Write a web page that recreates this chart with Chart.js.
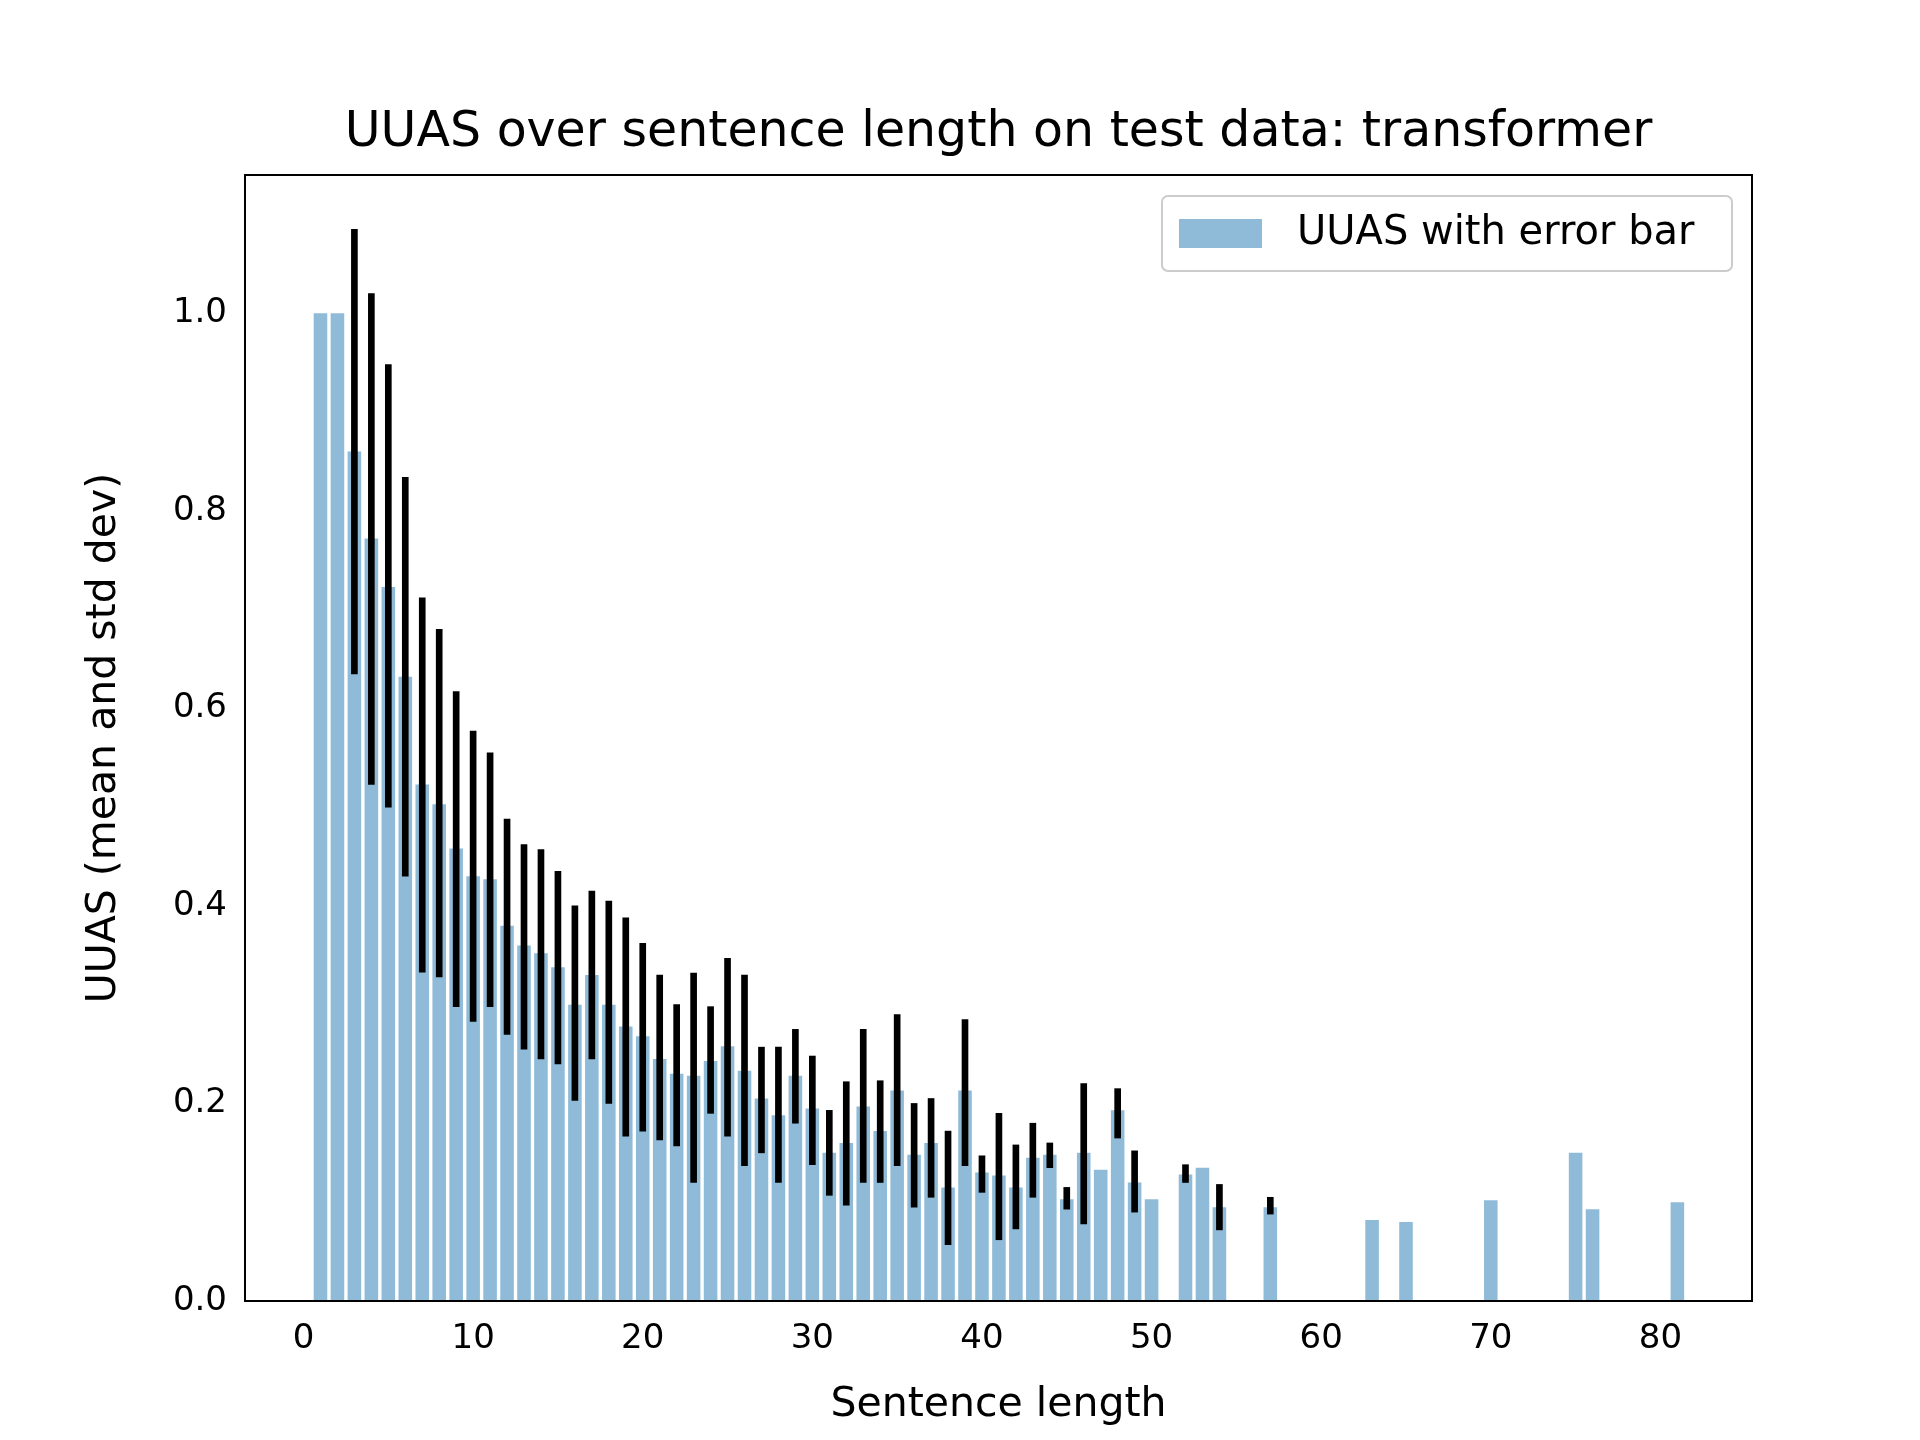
<!DOCTYPE html>
<html><head><meta charset="utf-8">
<script src="https://cdn.jsdelivr.net/npm/chart.js@4/dist/chart.umd.min.js"></script>
<style>body{margin:0;background:#fff}canvas{display:block}</style>
</head><body>
<canvas id="c" width="1920" height="1440"></canvas>
<script>
const lengths = [1,2,3,4,5,6,7,8,9,10,11,12,13,14,15,16,17,18,19,20,21,22,23,24,25,26,27,28,29,30,31,32,33,34,35,36,37,38,39,40,41,42,43,44,45,46,47,48,49,50,52,53,54,57,63,65,70,75,76,81];
const means = [1.0,1.0,0.86,0.772,0.723,0.632,0.523,0.503,0.458,0.43,0.427,0.38,0.36,0.352,0.338,0.30,0.33,0.30,0.278,0.268,0.245,0.23,0.228,0.243,0.258,0.233,0.205,0.188,0.228,0.195,0.15,0.16,0.197,0.172,0.213,0.148,0.16,0.115,0.213,0.13,0.127,0.115,0.145,0.148,0.103,0.15,0.133,0.193,0.12,0.103,0.128,0.135,0.095,0.095,0.082,0.08,0.102,0.15,0.093,0.10];
const errLow = [null,null,0.635,0.523,0.50,0.43,0.333,0.328,0.298,0.283,0.298,0.27,0.255,0.245,0.24,0.203,0.245,0.20,0.167,0.172,0.163,0.157,0.12,0.19,0.167,0.137,0.15,0.12,0.18,0.138,0.107,0.097,0.12,0.12,0.137,0.095,0.105,0.057,0.137,0.11,0.062,0.073,0.105,0.135,0.093,0.078,null,0.165,0.09,null,0.12,null,0.072,0.088,null,null,null,null,null,null];
const errHigh = [null,null,1.085,1.02,0.948,0.834,0.712,0.68,0.617,0.577,0.555,0.488,0.462,0.457,0.435,0.40,0.415,0.405,0.388,0.362,0.33,0.30,0.332,0.298,0.347,0.33,0.257,0.257,0.275,0.248,0.193,0.222,0.275,0.223,0.29,0.20,0.205,0.172,0.285,0.147,0.19,0.158,0.18,0.16,0.115,0.22,null,0.215,0.152,null,0.138,null,0.118,0.105,null,null,null,null,null,null];
const yTicks = [0,0.2,0.4,0.6,0.8,1.0];
const xTicks = [0,10,20,30,40,50,60,70,80];

const barData = lengths.map((x,i)=>({x, y: means[i]}));
const errData = lengths.map((x,i)=> errLow[i]==null ? null : {x, y:[errLow[i], errHigh[i]]}).filter(d=>d);
const font = {family:'"DejaVu Sans"', size:34};
const titleFont = {family:'"DejaVu Sans"', size:41};

const frame = {
  id:'frame',
  afterDraw(chart){
    const {ctx, chartArea:a} = chart;
    ctx.save();
    ctx.strokeStyle='#000'; ctx.lineWidth=2;
    ctx.strokeRect(a.left, a.top, a.right-a.left, a.bottom-a.top);
    // title
    ctx.fillStyle='#000'; ctx.font='49px "DejaVu Sans"'; ctx.textAlign='center'; ctx.textBaseline='middle';
    ctx.fillText('UUAS over sentence length on test data: transformer', (a.left+a.right)/2, 133);
    // legend
    const w=570, h=75, x=a.right-w-20, y=a.top+21;
    ctx.fillStyle='rgba(255,255,255,0.8)';
    ctx.strokeStyle='#cccccc'; ctx.lineWidth=2;
    ctx.beginPath(); ctx.roundRect(x,y,w,h,6); ctx.fill(); ctx.stroke();
    ctx.fillStyle='rgba(31,119,180,0.5)';
    ctx.fillRect(x+17, y+23, 83, 29);
    ctx.fillStyle='#000'; ctx.font='40px "DejaVu Sans"'; ctx.textAlign='left';
    ctx.fillText('UUAS with error bar', x+135, y+38);
    ctx.restore();
  }
};

new Chart(document.getElementById('c'), {
  type:'bar',
  data:{datasets:[
    {label:'error', data:errData, backgroundColor:'#000', barThickness:6, grouped:false, order:0},
    {label:'UUAS with error bar', data:barData, backgroundColor:'rgba(31,119,180,0.5)', barPercentage:0.8, categoryPercentage:1, grouped:false, order:1}
  ]},
  options:{
    responsive:false, animation:false,
    layout:{padding:{left:10, right:168, top:175, bottom:10}},
    plugins:{ legend:{display:false}, tooltip:{enabled:false}, title:{display:false} },
    scales:{
      x:{type:'linear', min:-3.45, max:85.4, offset:false,
        afterBuildTicks(s){ s.ticks = xTicks.map(v=>({value:v})); },
        afterFit(s){ s.height = 129; },
        grid:{display:false, drawTicks:true, tickLength:10, tickColor:'#000'},
        border:{color:'#000', width:2},
        ticks:{color:'#000', font, padding:8, maxRotation:0},
        title:{display:true, text:'Sentence length', color:'#000', font:titleFont, padding:{top:0, bottom:0}}
      },
      y:{min:0, max:1.14,
        afterBuildTicks(s){ s.ticks = yTicks.map(v=>({value:v})); },
        afterFit(s){ s.width = 235; },
        grid:{display:false, drawTicks:true, tickLength:10, tickColor:'#000'},
        border:{color:'#000', width:2},
        ticks:{color:'#000', font, padding:8, callback:v=>v.toFixed(1)},
        title:{display:true, text:'UUAS (mean and std dev)', color:'#000', font:titleFont, padding:{top:70, bottom:10}}
      }
    }
  },
  plugins:[frame]
});
</script>
</body></html>
